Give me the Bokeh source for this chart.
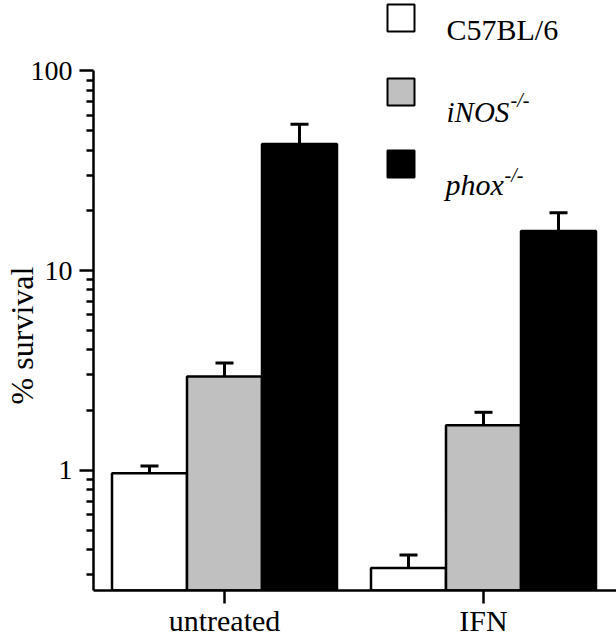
import math
from bokeh.plotting import figure
from bokeh.models import (Range1d, FixedTicker, PrintfTickFormatter, Label,
                          BoxAnnotation, ColumnDataSource)
from bokeh.embed import file_html
from bokeh.resources import INLINE

# ---------------- data ----------------
groups = ["untreated", "IFN"]
group_pos = [0, 1]
strains = ["C57BL/6", "iNOS", "phox"]

c57_mean = [0.965, 0.324]
c57_upper = [1.05, 0.376]
inos_mean = [2.95, 1.68]
inos_upper = [3.44, 1.95]
phox_mean = [43.0, 15.8]
phox_upper = [54.1, 19.5]

y_major = [1, 10, 100]
y_minor = [0.3, 0.4, 0.5, 0.6, 0.7, 0.8, 0.9,
           2, 3, 4, 5, 6, 7, 8, 9,
           20, 30, 40, 50, 60, 70, 80, 90]

# ---------------- layout ----------------
FONT = "Liberation Serif"
W, H = 616, 639
BL, BB = 93, 48            # left / bottom borders
FH = H - BB                # frame height
PX_DEC = 200.0             # pixels per decade
ONE_Y = 470.5              # canvas y of value 1
y0 = 10 ** (-(FH - ONE_Y) / PX_DEC)
y1 = 10 ** (ONE_Y / PX_DEC)
GROUP_PX = 259.0
x_start = -131.0 / GROUP_PX
x_end = x_start + (W - BL) / GROUP_PX
BAR_W = 75.0 / GROUP_PX
offsets = [-BAR_W, 0.0, BAR_W]

p = figure(width=W, height=H, x_range=Range1d(x_start, x_end),
           y_range=Range1d(y0, y1), y_axis_type="log",
           output_backend="svg", toolbar_location=None,
           min_border_left=BL, min_border_right=0, min_border_top=0,
           min_border_bottom=BB)
p.outline_line_color = None
p.grid.visible = False
p.background_fill_color = "white"

fills = ["white", "#c0c0c0", "black"]
means = [c57_mean, inos_mean, phox_mean]
uppers = [c57_upper, inos_upper, phox_upper]

for i in range(3):
    xs = [g + offsets[i] for g in group_pos]
    src = ColumnDataSource(dict(x=xs, top=means[i], up=uppers[i]))
    p.segment(x0="x", y0="top", x1="x", y1="up", source=src,
              line_color="black", line_width=3)
    p.scatter(x="x", y="up", source=src, marker="dash", size=18,
              line_color="black", line_width=3)
    p.vbar(x="x", width=BAR_W, top="top", bottom=y0, source=src,
           fill_color=fills[i], line_color="black", line_width=2.5)

# y axis
ya = p.yaxis[0]
ya.ticker = FixedTicker(ticks=y_major, minor_ticks=y_minor)
ya.formatter = PrintfTickFormatter(format="%d")
ya.bounds = (y0, 100)
ya.axis_line_width = 2.5
ya.major_tick_line_width = 2.5
ya.minor_tick_line_width = 2.5
ya.major_tick_out = 14
ya.major_tick_in = 0
ya.minor_tick_out = 7
ya.minor_tick_in = 0
ya.major_label_standoff = 7
ya.major_label_text_font = FONT
ya.major_label_text_font_size = "28px"
ya.major_label_text_color = "black"
# trailing no-break spaces push the rotated title toward the bottom, as in the original
ya.axis_label = "% survival" + "\u00a0" * 10
ya.axis_label_text_font = FONT
ya.axis_label_text_font_size = "32px"
ya.axis_label_text_font_style = "normal"
ya.axis_label_text_color = "black"
ya.axis_label_standoff = -12

# x axis
xa = p.xaxis[0]
xa.ticker = FixedTicker(ticks=group_pos, minor_ticks=[])
xa.major_label_overrides = {group_pos[k]: groups[k] for k in range(len(groups))}
xa.axis_line_width = 2.5
xa.major_tick_line_width = 2.5
xa.major_tick_out = 13
xa.major_tick_in = 0
xa.minor_tick_out = 0
xa.major_label_text_font = FONT
xa.major_label_text_font_size = "30px"
xa.major_label_text_color = "black"
xa.major_label_standoff = 0

# legend (screen units relative to frame: x from left edge, y up from bottom)
FB_IMG = H - BB
def sx(ix):
    return ix - BL
def sy(iy):
    return FB_IMG - iy

sq_tops = [5, 79, 151]
for i in range(3):
    p.add_layout(BoxAnnotation(left=sx(387), right=sx(414), top=sy(sq_tops[i]),
                               bottom=sy(sq_tops[i] + 27), left_units="screen",
                               right_units="screen", top_units="screen",
                               bottom_units="screen", fill_color=fills[i], fill_alpha=1,
                               line_color="black", line_width=2, line_alpha=1))

p.add_layout(Label(x=sx(446), y=sy(30), x_units="screen", y_units="screen",
                   text=strains[0], text_font=FONT, text_font_size="30px",
                   text_baseline="alphabetic", text_color="black"))
p.add_layout(Label(x=sx(446), y=sy(112), x_units="screen", y_units="screen",
                   text=strains[1], text_font=FONT, text_font_size="29px",
                   text_font_style="italic", text_baseline="alphabetic", text_color="black"))
p.add_layout(Label(x=sx(510), y=sy(100), x_units="screen", y_units="screen",
                   text="-/-", text_font=FONT, text_font_size="20px",
                   text_font_style="italic", text_baseline="alphabetic", text_color="black"))
p.add_layout(Label(x=sx(445), y=sy(185), x_units="screen", y_units="screen",
                   text=strains[2], text_font=FONT, text_font_size="30px",
                   text_font_style="italic", text_baseline="alphabetic", text_color="black"))
p.add_layout(Label(x=sx(504), y=sy(175), x_units="screen", y_units="screen",
                   text="-/-", text_font=FONT, text_font_size="20px",
                   text_font_style="italic", text_baseline="alphabetic", text_color="black"))

open("out.html", "w").write(file_html(p, INLINE))
